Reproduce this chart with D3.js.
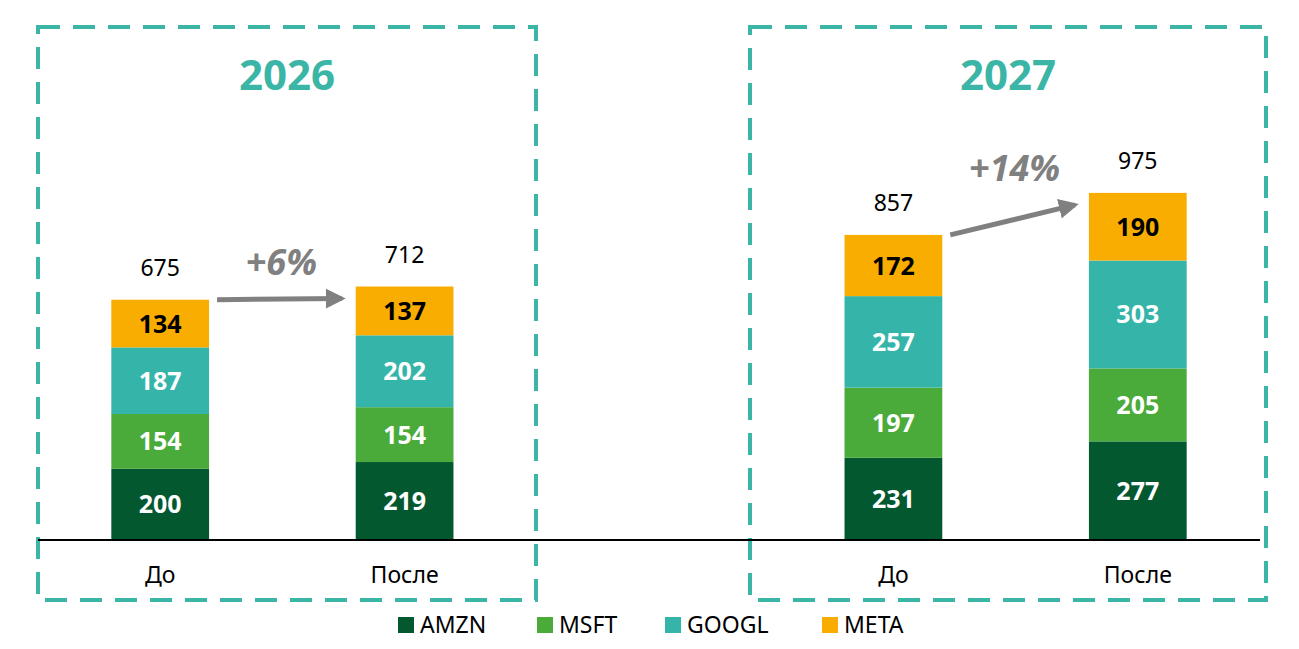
<!DOCTYPE html>
<html><head><meta charset="utf-8">
<script src="https://cdn.jsdelivr.net/npm/d3@7"></script>
<style>body{margin:0;background:#fff;font-family:"Noto Sans",sans-serif}</style>
</head><body><svg id="chart"></svg>
<script>
const width = 1299, height = 649;
const slots = ['2026|До', '2026|После', 'gap', '2027|До', '2027|После'];
const categories = ['2026|До', '2026|После', '2027|До', '2027|После'];
const labels = ['До', 'После', 'До', 'После'];
const series = ['AMZN', 'MSFT', 'GOOGL', 'META'];
const amzn = [200, 219, 231, 277];
const msft = [154, 154, 197, 205];
const googl = [187, 202, 257, 303];
const meta = [134, 137, 172, 190];
const totals = [675, 712, 857, 975];
const colors = ['#045830', '#4aab3a', '#35b5aa', '#f9ad00'];

const svg = d3.select('#chart').attr('width', width).attr('height', height);
const x = d3.scaleBand().domain(slots).range([38, 1260]).paddingInner(0.6).paddingOuter(0.3);
const y = d3.scaleLinear().domain([0, 1000]).range([540, 184]);

const rows = categories.map((c, i) => ({cat: c, AMZN: amzn[i], MSFT: msft[i], GOOGL: googl[i], META: meta[i]}));
const stacked = d3.stack().keys(series)(rows);

// dashed boxes
[[38, 536], [750, 1266]].forEach(([x0, x1], i) => {
  svg.append('rect').attr('x', x0).attr('y', 27).attr('width', x1 - x0).attr('height', 573)
    .attr('fill', 'none').attr('stroke', '#3bb5a6').attr('stroke-width', 4).attr('stroke-dasharray', '22,13');
  svg.append('text').attr('x', (x0 + x1) / 2).attr('y', 90).attr('text-anchor', 'middle')
    .attr('font-size', 42).attr('font-weight', 'bold').attr('fill', '#3bb5a6').text(i ? '2027' : '2026');
});

stacked.forEach((s, si) => {
  const g = svg.append('g');
  g.selectAll('rect').data(s).join('rect')
    .attr('x', d => x(d.data.cat)).attr('width', x.bandwidth())
    .attr('y', d => y(d[1])).attr('height', d => y(d[0]) - y(d[1]))
    .attr('fill', colors[si]);
  g.selectAll('text').data(s).join('text')
    .attr('x', d => x(d.data.cat) + x.bandwidth() / 2)
    .attr('y', d => (y(d[0]) + y(d[1])) / 2 + 9)
    .attr('text-anchor', 'middle').attr('font-size', 25).attr('font-weight', 'bold')
    .attr('fill', si === 3 ? '#000' : '#fff')
    .text(d => d[1] - d[0]);
});

svg.selectAll('.tot').data(categories).join('text')
  .attr('x', c => x(c) + x.bandwidth() / 2).attr('y', (c, i) => y(totals[i]) - 24)
  .attr('text-anchor', 'middle').attr('font-size', 23).text((c, i) => totals[i]);

svg.append('line').attr('x1', 38).attr('x2', 1260).attr('y1', 540).attr('y2', 540)
  .attr('stroke', '#000').attr('stroke-width', 2);

svg.selectAll('.cat').data(categories).join('text')
  .attr('x', c => x(c) + x.bandwidth() / 2).attr('y', 583)
  .attr('text-anchor', 'middle').attr('font-size', 23).text((c, i) => labels[i]);

// arrows
svg.append('defs').append('marker').attr('id', 'ah').attr('viewBox', '0 0 10 10')
  .attr('refX', 8).attr('refY', 5).attr('markerWidth', 4).attr('markerHeight', 4).attr('orient', 'auto')
  .append('path').attr('d', 'M0,0L10,5L0,10z').attr('fill', '#808080');
const arrows = [{from: 0, to: 1, t: '+6%'}, {from: 2, to: 3, t: '+14%'}];
arrows.forEach(a => {
  const x0 = x(categories[a.from]) + x.bandwidth() + 8, y0 = y(totals[a.from]);
  const x1 = x(categories[a.to]) - 14, y1 = y(totals[a.to]) + 12;
  svg.append('line').attr('x1', x0).attr('y1', y0).attr('x2', x1).attr('y2', y1)
    .attr('stroke', '#808080').attr('stroke-width', 5).attr('marker-end', 'url(#ah)');
  svg.append('text').attr('x', (x0 + x1) / 2 + 2).attr('y', Math.min(y0, y1) - 24)
    .attr('text-anchor', 'middle').attr('font-size', 36).attr('font-weight', 'bold')
    .attr('font-style', 'italic').attr('fill', '#808080').text(a.t);
});

// legend
const legX = [398, 537, 665, 822];
series.forEach((s, i) => {
  svg.append('rect').attr('x', legX[i]).attr('y', 617).attr('width', 16).attr('height', 16).attr('fill', colors[i]);
  svg.append('text').attr('x', legX[i] + 22).attr('y', 633).attr('font-size', 23).text(s);
});
</script></body></html>
